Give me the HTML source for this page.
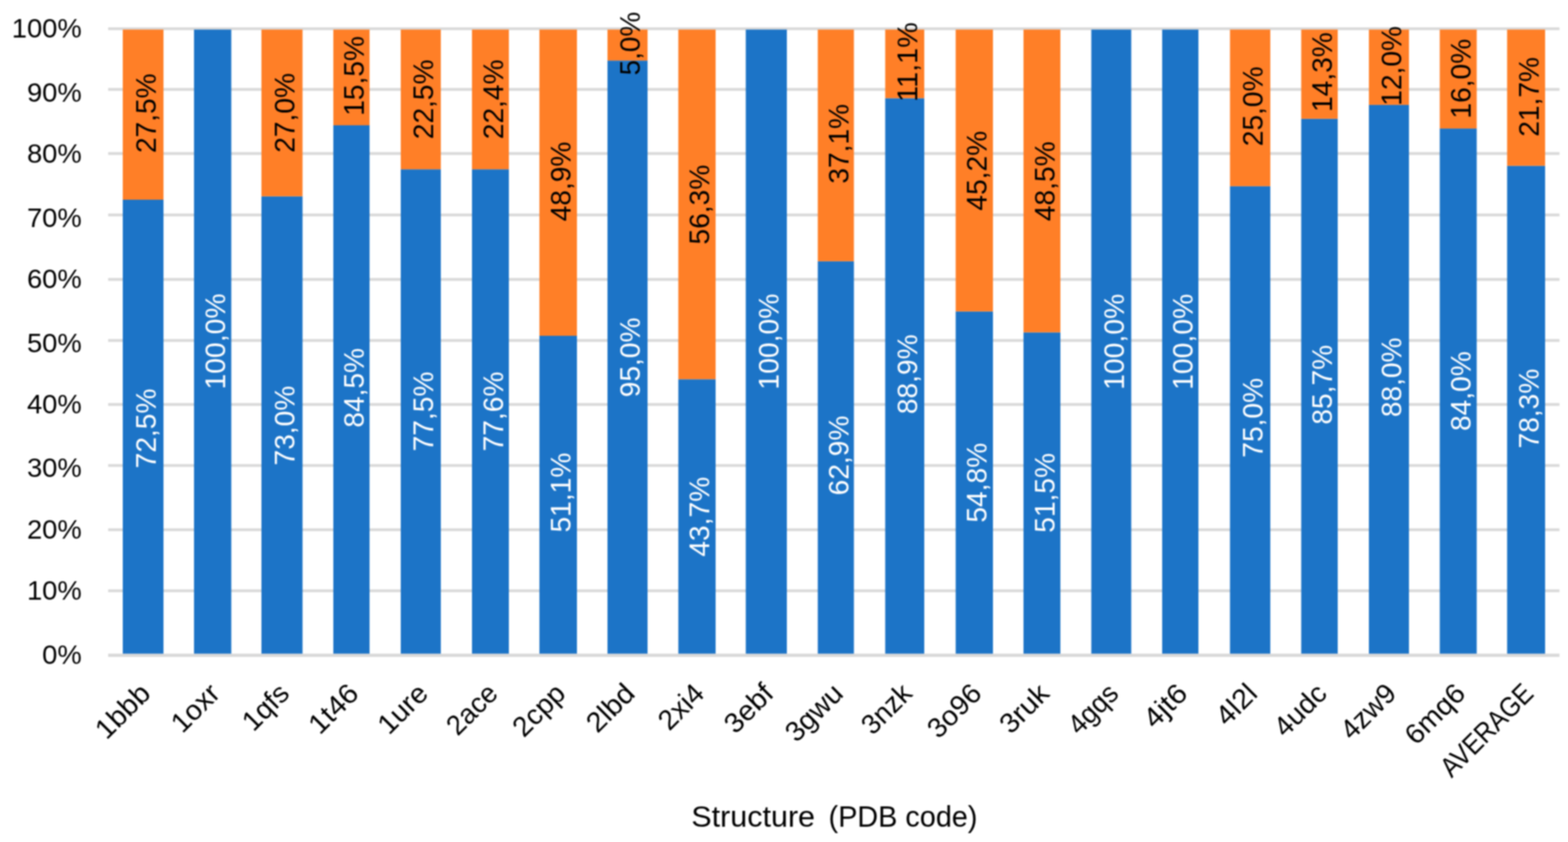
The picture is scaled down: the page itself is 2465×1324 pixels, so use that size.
<!DOCTYPE html><html><head><meta charset="utf-8"><style>html,body{margin:0;padding:0;background:#fff;overflow:hidden}svg{display:block;filter:blur(1px)}</style></head><body><svg width="2465" height="1324" viewBox="0 0 2465 1324">
<rect width="2465" height="1324" fill="#fff"/>
<rect x="170" y="926.8" width="2281.6" height="4.4" fill="#D9D9D9"/>
<rect x="170" y="830.8" width="2281.6" height="4.4" fill="#D9D9D9"/>
<rect x="170" y="729.8" width="2281.6" height="4.4" fill="#D9D9D9"/>
<rect x="170" y="633.8" width="2281.6" height="4.4" fill="#D9D9D9"/>
<rect x="170" y="533.2" width="2281.6" height="4.4" fill="#D9D9D9"/>
<rect x="170" y="437.2" width="2281.6" height="4.4" fill="#D9D9D9"/>
<rect x="170" y="335.8" width="2281.6" height="4.4" fill="#D9D9D9"/>
<rect x="170" y="239.2" width="2281.6" height="4.4" fill="#D9D9D9"/>
<rect x="170" y="138.4" width="2281.6" height="4.4" fill="#D9D9D9"/>
<rect x="170" y="43.0" width="2281.6" height="4.4" fill="#D9D9D9"/>
<rect x="193" y="314.0" width="64.0" height="716.5" fill="#1C74C7"/>
<rect x="193" y="46.5" width="64.0" height="267.5" fill="#FF7F27"/>
<rect x="305" y="46.5" width="58.6" height="984.0" fill="#1C74C7"/>
<rect x="411" y="308.7" width="64.6" height="721.8" fill="#1C74C7"/>
<rect x="411" y="46.5" width="64.6" height="262.2" fill="#FF7F27"/>
<rect x="524" y="197.0" width="57.0" height="833.5" fill="#1C74C7"/>
<rect x="524" y="46.5" width="57.0" height="150.5" fill="#FF7F27"/>
<rect x="630" y="266.2" width="63.0" height="764.3" fill="#1C74C7"/>
<rect x="630" y="46.5" width="63.0" height="219.7" fill="#FF7F27"/>
<rect x="742" y="266.2" width="58.0" height="764.3" fill="#1C74C7"/>
<rect x="742" y="46.5" width="58.0" height="219.7" fill="#FF7F27"/>
<rect x="848" y="528.0" width="59.0" height="502.5" fill="#1C74C7"/>
<rect x="848" y="46.5" width="59.0" height="481.5" fill="#FF7F27"/>
<rect x="955" y="95.2" width="63.0" height="935.3" fill="#1C74C7"/>
<rect x="955" y="46.5" width="63.0" height="48.7" fill="#FF7F27"/>
<rect x="1066.4" y="596.3" width="58.6" height="434.2" fill="#1C74C7"/>
<rect x="1066.4" y="46.5" width="58.6" height="549.8" fill="#FF7F27"/>
<rect x="1172.4" y="46.5" width="64.6" height="984.0" fill="#1C74C7"/>
<rect x="1285.6" y="410.8" width="56.8" height="619.7" fill="#1C74C7"/>
<rect x="1285.6" y="46.5" width="56.8" height="364.3" fill="#FF7F27"/>
<rect x="1391.6" y="154.4" width="61.4" height="876.1" fill="#1C74C7"/>
<rect x="1391.6" y="46.5" width="61.4" height="107.9" fill="#FF7F27"/>
<rect x="1502.4" y="489.7" width="58.6" height="540.8" fill="#1C74C7"/>
<rect x="1502.4" y="46.5" width="58.6" height="443.2" fill="#FF7F27"/>
<rect x="1609" y="522.6" width="58.0" height="507.9" fill="#1C74C7"/>
<rect x="1609" y="46.5" width="58.0" height="476.1" fill="#FF7F27"/>
<rect x="1715.6" y="46.5" width="62.8" height="984.0" fill="#1C74C7"/>
<rect x="1827" y="46.5" width="57.0" height="984.0" fill="#1C74C7"/>
<rect x="1933.6" y="292.8" width="63.4" height="737.7" fill="#1C74C7"/>
<rect x="1933.6" y="46.5" width="63.4" height="246.3" fill="#FF7F27"/>
<rect x="2045.6" y="186.8" width="57.4" height="843.7" fill="#1C74C7"/>
<rect x="2045.6" y="46.5" width="57.4" height="140.3" fill="#FF7F27"/>
<rect x="2152" y="164.9" width="63.0" height="865.6" fill="#1C74C7"/>
<rect x="2152" y="46.5" width="63.0" height="118.4" fill="#FF7F27"/>
<rect x="2263.4" y="202.1" width="58.1" height="828.4" fill="#1C74C7"/>
<rect x="2263.4" y="46.5" width="58.1" height="155.6" fill="#FF7F27"/>
<rect x="2369.3" y="260.7" width="59.7" height="769.8" fill="#1C74C7"/>
<rect x="2369.3" y="46.5" width="59.7" height="214.2" fill="#FF7F27"/>
<rect x="170" y="1027.8" width="2281.6" height="5.2" fill="#D9D9D9"/>
<text x="128.5" y="1043.7" text-anchor="end" font-family='"Liberation Sans", sans-serif' font-size="43" fill="#000">0%</text>
<text x="128.5" y="942.7" text-anchor="end" font-family='"Liberation Sans", sans-serif' font-size="43" fill="#000">10%</text>
<text x="128.5" y="846.7" text-anchor="end" font-family='"Liberation Sans", sans-serif' font-size="43" fill="#000">20%</text>
<text x="128.5" y="750.2" text-anchor="end" font-family='"Liberation Sans", sans-serif' font-size="43" fill="#000">30%</text>
<text x="128.5" y="649.7" text-anchor="end" font-family='"Liberation Sans", sans-serif' font-size="43" fill="#000">40%</text>
<text x="128.5" y="554.2" text-anchor="end" font-family='"Liberation Sans", sans-serif' font-size="43" fill="#000">50%</text>
<text x="128.5" y="452.7" text-anchor="end" font-family='"Liberation Sans", sans-serif' font-size="43" fill="#000">60%</text>
<text x="128.5" y="357.0" text-anchor="end" font-family='"Liberation Sans", sans-serif' font-size="43" fill="#000">70%</text>
<text x="128.5" y="255.7" text-anchor="end" font-family='"Liberation Sans", sans-serif' font-size="43" fill="#000">80%</text>
<text x="128.5" y="159.8" text-anchor="end" font-family='"Liberation Sans", sans-serif' font-size="43" fill="#000">90%</text>
<text x="128.5" y="59.0" text-anchor="end" font-family='"Liberation Sans", sans-serif' font-size="43" fill="#000">100%</text>
<text transform="translate(244.5,673.7) rotate(-90)" text-anchor="middle" font-family='"Liberation Sans", sans-serif' font-size="45" textLength="125.5" lengthAdjust="spacingAndGlyphs" fill="#fff">72,5%</text>
<text transform="translate(244.5,178.1) rotate(-90)" text-anchor="middle" font-family='"Liberation Sans", sans-serif' font-size="45" textLength="125.5" lengthAdjust="spacingAndGlyphs" fill="#000">27,5%</text>
<text transform="translate(353.8,536.9) rotate(-90)" text-anchor="middle" font-family='"Liberation Sans", sans-serif' font-size="45" textLength="151.1" lengthAdjust="spacingAndGlyphs" fill="#fff">100,0%</text>
<text transform="translate(462.8,669.2) rotate(-90)" text-anchor="middle" font-family='"Liberation Sans", sans-serif' font-size="45" textLength="125.5" lengthAdjust="spacingAndGlyphs" fill="#fff">73,0%</text>
<text transform="translate(462.8,177.5) rotate(-90)" text-anchor="middle" font-family='"Liberation Sans", sans-serif' font-size="45" textLength="125.5" lengthAdjust="spacingAndGlyphs" fill="#000">27,0%</text>
<text transform="translate(572.0,609.8) rotate(-90)" text-anchor="middle" font-family='"Liberation Sans", sans-serif' font-size="45" textLength="125.5" lengthAdjust="spacingAndGlyphs" fill="#fff">84,5%</text>
<text transform="translate(572.0,119.3) rotate(-90)" text-anchor="middle" font-family='"Liberation Sans", sans-serif' font-size="45" textLength="125.5" lengthAdjust="spacingAndGlyphs" fill="#000">15,5%</text>
<text transform="translate(681.0,647.0) rotate(-90)" text-anchor="middle" font-family='"Liberation Sans", sans-serif' font-size="45" textLength="125.5" lengthAdjust="spacingAndGlyphs" fill="#fff">77,5%</text>
<text transform="translate(681.0,156.2) rotate(-90)" text-anchor="middle" font-family='"Liberation Sans", sans-serif' font-size="45" textLength="125.5" lengthAdjust="spacingAndGlyphs" fill="#000">22,5%</text>
<text transform="translate(790.5,647.0) rotate(-90)" text-anchor="middle" font-family='"Liberation Sans", sans-serif' font-size="45" textLength="125.5" lengthAdjust="spacingAndGlyphs" fill="#fff">77,6%</text>
<text transform="translate(790.5,156.2) rotate(-90)" text-anchor="middle" font-family='"Liberation Sans", sans-serif' font-size="45" textLength="125.5" lengthAdjust="spacingAndGlyphs" fill="#000">22,4%</text>
<text transform="translate(897.0,774.5) rotate(-90)" text-anchor="middle" font-family='"Liberation Sans", sans-serif' font-size="45" textLength="125.5" lengthAdjust="spacingAndGlyphs" fill="#fff">51,1%</text>
<text transform="translate(897.0,285.3) rotate(-90)" text-anchor="middle" font-family='"Liberation Sans", sans-serif' font-size="45" textLength="125.5" lengthAdjust="spacingAndGlyphs" fill="#000">48,9%</text>
<text transform="translate(1006.0,561.9) rotate(-90)" text-anchor="middle" font-family='"Liberation Sans", sans-serif' font-size="45" textLength="125.5" lengthAdjust="spacingAndGlyphs" fill="#fff">95,0%</text>
<text transform="translate(1006.0,68.5) rotate(-90)" text-anchor="middle" font-family='"Liberation Sans", sans-serif' font-size="45" textLength="99.9" lengthAdjust="spacingAndGlyphs" fill="#000">5,0%</text>
<text transform="translate(1115.2,812.5) rotate(-90)" text-anchor="middle" font-family='"Liberation Sans", sans-serif' font-size="45" textLength="125.5" lengthAdjust="spacingAndGlyphs" fill="#fff">43,7%</text>
<text transform="translate(1115.2,321.7) rotate(-90)" text-anchor="middle" font-family='"Liberation Sans", sans-serif' font-size="45" textLength="125.5" lengthAdjust="spacingAndGlyphs" fill="#000">56,3%</text>
<text transform="translate(1224.2,537.1) rotate(-90)" text-anchor="middle" font-family='"Liberation Sans", sans-serif' font-size="45" textLength="151.1" lengthAdjust="spacingAndGlyphs" fill="#fff">100,0%</text>
<text transform="translate(1333.5,716.2) rotate(-90)" text-anchor="middle" font-family='"Liberation Sans", sans-serif' font-size="45" textLength="125.5" lengthAdjust="spacingAndGlyphs" fill="#fff">62,9%</text>
<text transform="translate(1333.5,226.1) rotate(-90)" text-anchor="middle" font-family='"Liberation Sans", sans-serif' font-size="45" textLength="125.5" lengthAdjust="spacingAndGlyphs" fill="#000">37,1%</text>
<text transform="translate(1441.8,588.5) rotate(-90)" text-anchor="middle" font-family='"Liberation Sans", sans-serif' font-size="45" textLength="125.5" lengthAdjust="spacingAndGlyphs" fill="#fff">88,9%</text>
<text transform="translate(1441.8,97.5) rotate(-90)" text-anchor="middle" font-family='"Liberation Sans", sans-serif' font-size="45" textLength="125.5" lengthAdjust="spacingAndGlyphs" fill="#000">11,1%</text>
<text transform="translate(1551.2,759.0) rotate(-90)" text-anchor="middle" font-family='"Liberation Sans", sans-serif' font-size="45" textLength="125.5" lengthAdjust="spacingAndGlyphs" fill="#fff">54,8%</text>
<text transform="translate(1551.2,268.4) rotate(-90)" text-anchor="middle" font-family='"Liberation Sans", sans-serif' font-size="45" textLength="125.5" lengthAdjust="spacingAndGlyphs" fill="#000">45,2%</text>
<text transform="translate(1657.5,774.9) rotate(-90)" text-anchor="middle" font-family='"Liberation Sans", sans-serif' font-size="45" textLength="125.5" lengthAdjust="spacingAndGlyphs" fill="#fff">51,5%</text>
<text transform="translate(1657.5,285.0) rotate(-90)" text-anchor="middle" font-family='"Liberation Sans", sans-serif' font-size="45" textLength="125.5" lengthAdjust="spacingAndGlyphs" fill="#000">48,5%</text>
<text transform="translate(1766.5,537.5) rotate(-90)" text-anchor="middle" font-family='"Liberation Sans", sans-serif' font-size="45" textLength="151.1" lengthAdjust="spacingAndGlyphs" fill="#fff">100,0%</text>
<text transform="translate(1875.0,537.5) rotate(-90)" text-anchor="middle" font-family='"Liberation Sans", sans-serif' font-size="45" textLength="151.1" lengthAdjust="spacingAndGlyphs" fill="#fff">100,0%</text>
<text transform="translate(1984.8,656.9) rotate(-90)" text-anchor="middle" font-family='"Liberation Sans", sans-serif' font-size="45" textLength="125.5" lengthAdjust="spacingAndGlyphs" fill="#fff">75,0%</text>
<text transform="translate(1984.8,167.2) rotate(-90)" text-anchor="middle" font-family='"Liberation Sans", sans-serif' font-size="45" textLength="125.5" lengthAdjust="spacingAndGlyphs" fill="#000">25,0%</text>
<text transform="translate(2093.8,605.0) rotate(-90)" text-anchor="middle" font-family='"Liberation Sans", sans-serif' font-size="45" textLength="125.5" lengthAdjust="spacingAndGlyphs" fill="#fff">85,7%</text>
<text transform="translate(2093.8,113.3) rotate(-90)" text-anchor="middle" font-family='"Liberation Sans", sans-serif' font-size="45" textLength="125.5" lengthAdjust="spacingAndGlyphs" fill="#000">14,3%</text>
<text transform="translate(2203.0,593.3) rotate(-90)" text-anchor="middle" font-family='"Liberation Sans", sans-serif' font-size="45" textLength="125.5" lengthAdjust="spacingAndGlyphs" fill="#fff">88,0%</text>
<text transform="translate(2203.0,103.6) rotate(-90)" text-anchor="middle" font-family='"Liberation Sans", sans-serif' font-size="45" textLength="125.5" lengthAdjust="spacingAndGlyphs" fill="#000">12,0%</text>
<text transform="translate(2311.9,615.0) rotate(-90)" text-anchor="middle" font-family='"Liberation Sans", sans-serif' font-size="45" textLength="125.5" lengthAdjust="spacingAndGlyphs" fill="#fff">84,0%</text>
<text transform="translate(2311.9,123.7) rotate(-90)" text-anchor="middle" font-family='"Liberation Sans", sans-serif' font-size="45" textLength="125.5" lengthAdjust="spacingAndGlyphs" fill="#000">16,0%</text>
<text transform="translate(2418.7,642.4) rotate(-90)" text-anchor="middle" font-family='"Liberation Sans", sans-serif' font-size="45" textLength="125.5" lengthAdjust="spacingAndGlyphs" fill="#fff">78,3%</text>
<text transform="translate(2418.7,152.3) rotate(-90)" text-anchor="middle" font-family='"Liberation Sans", sans-serif' font-size="45" textLength="125.5" lengthAdjust="spacingAndGlyphs" fill="#000">21,7%</text>
<text transform="translate(239.0,1093) rotate(-45)" text-anchor="end" font-family='"Liberation Sans", sans-serif' font-size="44" textLength="101.0" lengthAdjust="spacingAndGlyphs" fill="#000">1bbb</text>
<text transform="translate(348.3,1093) rotate(-45)" text-anchor="end" font-family='"Liberation Sans", sans-serif' font-size="44" textLength="87.1" lengthAdjust="spacingAndGlyphs" fill="#000">1oxr</text>
<text transform="translate(457.3,1093) rotate(-45)" text-anchor="end" font-family='"Liberation Sans", sans-serif' font-size="44" textLength="83.2" lengthAdjust="spacingAndGlyphs" fill="#000">1qfs</text>
<text transform="translate(566.5,1093) rotate(-45)" text-anchor="end" font-family='"Liberation Sans", sans-serif' font-size="44" textLength="90.0" lengthAdjust="spacingAndGlyphs" fill="#000">1t46</text>
<text transform="translate(675.5,1093) rotate(-45)" text-anchor="end" font-family='"Liberation Sans", sans-serif' font-size="44" textLength="90.5" lengthAdjust="spacingAndGlyphs" fill="#000">1ure</text>
<text transform="translate(785.0,1093) rotate(-45)" text-anchor="end" font-family='"Liberation Sans", sans-serif' font-size="44" textLength="92.5" lengthAdjust="spacingAndGlyphs" fill="#000">2ace</text>
<text transform="translate(891.5,1093) rotate(-45)" text-anchor="end" font-family='"Liberation Sans", sans-serif' font-size="44" textLength="96.1" lengthAdjust="spacingAndGlyphs" fill="#000">2cpp</text>
<text transform="translate(1000.5,1093) rotate(-45)" text-anchor="end" font-family='"Liberation Sans", sans-serif' font-size="44" textLength="86.7" lengthAdjust="spacingAndGlyphs" fill="#000">2lbd</text>
<text transform="translate(1109.7,1093) rotate(-45)" text-anchor="end" font-family='"Liberation Sans", sans-serif' font-size="44" textLength="81.3" lengthAdjust="spacingAndGlyphs" fill="#000">2xi4</text>
<text transform="translate(1218.7,1093) rotate(-45)" text-anchor="end" font-family='"Liberation Sans", sans-serif' font-size="44" textLength="88.6" lengthAdjust="spacingAndGlyphs" fill="#000">3ebf</text>
<text transform="translate(1328.0,1093) rotate(-45)" text-anchor="end" font-family='"Liberation Sans", sans-serif' font-size="44" textLength="107.6" lengthAdjust="spacingAndGlyphs" fill="#000">3gwu</text>
<text transform="translate(1436.3,1093) rotate(-45)" text-anchor="end" font-family='"Liberation Sans", sans-serif' font-size="44" textLength="91.3" lengthAdjust="spacingAndGlyphs" fill="#000">3nzk</text>
<text transform="translate(1545.7,1093) rotate(-45)" text-anchor="end" font-family='"Liberation Sans", sans-serif' font-size="44" textLength="99.3" lengthAdjust="spacingAndGlyphs" fill="#000">3o96</text>
<text transform="translate(1652.0,1093) rotate(-45)" text-anchor="end" font-family='"Liberation Sans", sans-serif' font-size="44" textLength="89.0" lengthAdjust="spacingAndGlyphs" fill="#000">3ruk</text>
<text transform="translate(1761.0,1093) rotate(-45)" text-anchor="end" font-family='"Liberation Sans", sans-serif' font-size="44" textLength="91.4" lengthAdjust="spacingAndGlyphs" fill="#000">4gqs</text>
<text transform="translate(1869.5,1093) rotate(-45)" text-anchor="end" font-family='"Liberation Sans", sans-serif' font-size="44" textLength="77.0" lengthAdjust="spacingAndGlyphs" fill="#000">4jt6</text>
<text transform="translate(1979.3,1093) rotate(-45)" text-anchor="end" font-family='"Liberation Sans", sans-serif' font-size="44" textLength="71.4" lengthAdjust="spacingAndGlyphs" fill="#000">4l2l</text>
<text transform="translate(2088.3,1093) rotate(-45)" text-anchor="end" font-family='"Liberation Sans", sans-serif' font-size="44" textLength="96.1" lengthAdjust="spacingAndGlyphs" fill="#000">4udc</text>
<text transform="translate(2197.5,1093) rotate(-45)" text-anchor="end" font-family='"Liberation Sans", sans-serif' font-size="44" textLength="102.5" lengthAdjust="spacingAndGlyphs" fill="#000">4zw9</text>
<text transform="translate(2306.4,1093) rotate(-45)" text-anchor="end" font-family='"Liberation Sans", sans-serif' font-size="44" textLength="113.4" lengthAdjust="spacingAndGlyphs" fill="#000">6mq6</text>
<text transform="translate(2413.2,1093) rotate(-45)" text-anchor="end" font-family='"Liberation Sans", sans-serif' font-size="44" textLength="185.5" lengthAdjust="spacingAndGlyphs" fill="#000">AVERAGE</text>
<text x="1086.8" y="1299.6" font-family='"Liberation Sans", sans-serif' font-size="46" textLength="194.5" lengthAdjust="spacingAndGlyphs" fill="#000">Structure</text>
<text x="1302.6" y="1299.6" font-family='"Liberation Sans", sans-serif' font-size="46" textLength="234" lengthAdjust="spacingAndGlyphs" fill="#000">(PDB code)</text>
</svg></body></html>
